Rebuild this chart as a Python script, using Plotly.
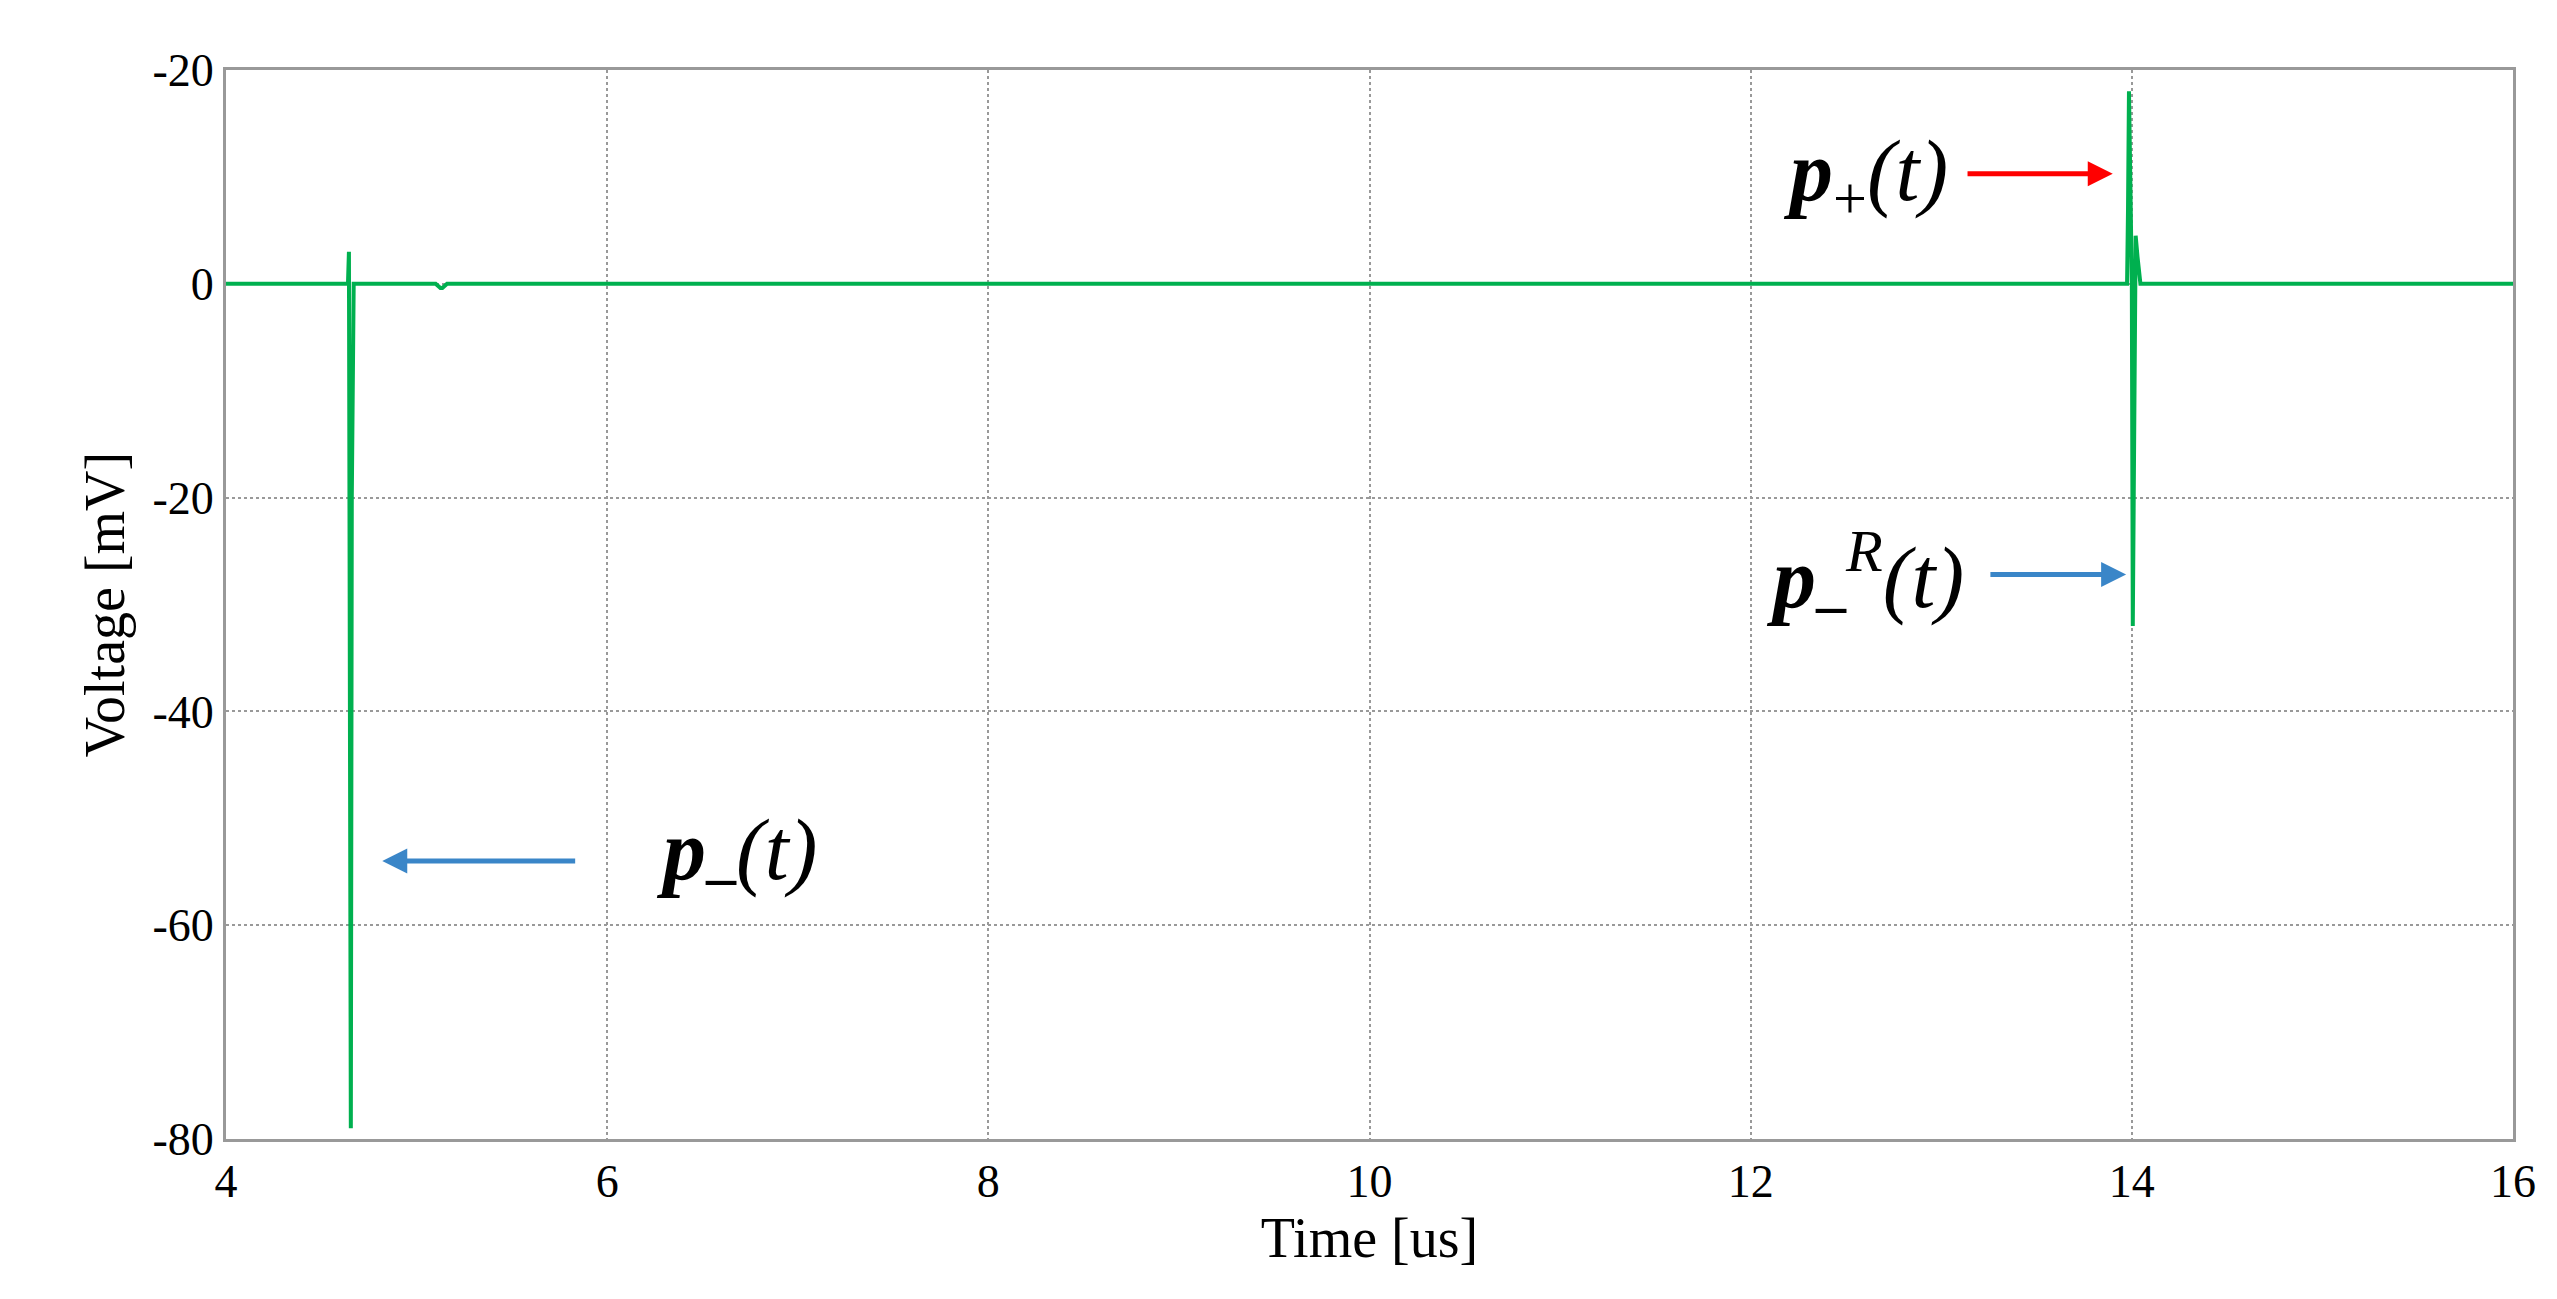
import plotly.graph_objects as go

t = [4.0, 4.640, 4.645, 4.650, 4.655, 4.660, 4.665, 4.670, 5.10, 5.125, 5.135, 5.16,
     13.96, 13.975, 13.98, 13.985, 13.99, 13.995, 14.0, 14.005, 14.01, 14.015, 14.02, 14.03, 14.045, 14.06, 16.0]
v = [0.0, 0.0, 3.0, -48.0, -79.0, -20.0, 0.0, 0.0, 0.0, -0.4, -0.4, 0.0,
     0.0, 0.0, 7.0, 18.0, 12.0, 8.0, 0.0, -32.0, -20.0, 0.0, 4.5, 2.5, 0.0, 0.0, 0.0]
ytick_vals = [20, 0, -20, -40, -60, -80]
ytick_text = ["-20", "0", "-20", "-40", "-60", "-80"]
xtick_vals = [4, 6, 8, 10, 12, 14, 16]

fig = go.Figure(go.Scatter(x=t, y=v, mode="lines", line=dict(color="#00b04f", width=4)))
serif = "Liberation Serif"
fig.update_layout(
    width=2557, height=1299, plot_bgcolor="white", paper_bgcolor="white",
    margin=dict(l=218, r=52, t=62, b=168), showlegend=False,
    font=dict(family=serif, size=46, color="black"),
    xaxis=dict(range=[4, 16], tickvals=xtick_vals, showgrid=True, gridcolor="#999999",
               griddash="dot", gridwidth=2, showline=True, linecolor="#999999", linewidth=3,
               mirror=True, zeroline=False, ticks="", title=dict(text="Time [us]", font=dict(size=56), standoff=0)),
    yaxis=dict(range=[-80, 20], tickvals=ytick_vals, ticktext=ytick_text, showgrid=True,
               gridcolor="#999999", griddash="dot", gridwidth=2, showline=True, linecolor="#999999",
               linewidth=3, mirror=True, zeroline=False, ticks="",
               title=dict(text="Voltage [mV]", font=dict(size=56), standoff=10)),
)
arrows = [
    (13.9, 10.3, 13.13, 10.3, "red"),
    (13.97, -27.2, 13.25, -27.2, "#3a86c8"),
    (4.82, -54.0, 5.84, -54.0, "#3a86c8"),
]
for x, y, ax, ay, c in arrows:
    fig.add_annotation(x=x, y=y, ax=ax, ay=ay, axref="x", ayref="y", xref="x", yref="y",
                       showarrow=True, arrowhead=2, arrowsize=1, arrowwidth=5, arrowcolor=c, text="")
labels = [
    (12.6, 10.0, "<b><i>p</i></b><sub>+</sub><i>(t)</i>"),
    (12.6, -27.5, "<b><i>p</i></b><sub><b>–</b></sub><sup><i>R</i></sup><i>(t)</i>"),
    (6.68, -53.5, "<b><i>p</i></b><sub><b>–</b></sub><i>(t)</i>"),
]
for x, y, s in labels:
    fig.add_annotation(x=x, y=y, xref="x", yref="y", text=s, showarrow=False,
                       font=dict(family=serif, size=86, color="black"))
fig.write_html("out.html")
